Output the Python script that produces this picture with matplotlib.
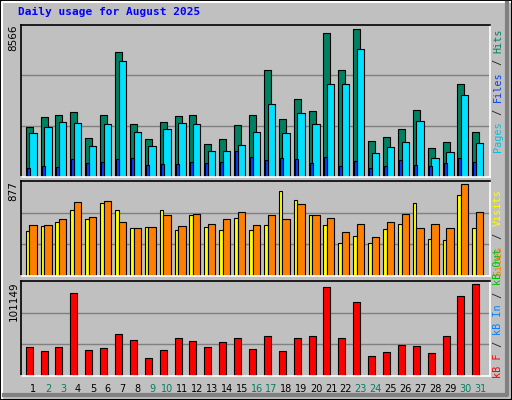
import matplotlib
matplotlib.use("Agg")
import matplotlib.pyplot as plt
from matplotlib.patches import Rectangle
from matplotlib.lines import Line2D

days = list(range(1, 32))
weekends = [2, 3, 9, 10, 16, 17, 23, 24, 30, 31]
hits = [2824,3352,3465,3634,2165,3465,7023,2956,2109,3069,3408,3465,1826,2109,2900,3465,
        6007,3239,4369,3691,8097,6007,8323,1996,2222,2674,3747,1600,1940,5216,2504]
files = [2448,2787,3069,3013,1713,2956,6515,2504,1713,2674,3013,2956,1431,1431,1770,2504,
         4086,2448,3578,2956,5216,5216,7193,1318,1657,1940,3126,1036,1375,4595,1883]
pages = [470,600,546,998,753,810,998,1036,640,716,716,810,753,810,1450,1111,
         941,1054,998,753,1111,603,885,490,603,941,659,603,753,1054,810]
visits = [413,458,495,605,523,669,605,440,449,605,422,559,449,422,532,422,
          468,779,697,559,468,303,367,303,431,477,669,339,330,742,440]
sites = [468,468,523,678,541,688,495,440,449,559,458,568,477,523,587,468,
         559,523,660,559,532,403,477,358,495,568,440,477,440,843,587]
kbytes = [30273,26000,30275,87980,27070,29200,44170,37760,18520,27070,39890,36690,30275,35620,39890,28140,
          42030,26000,39890,42030,94390,39890,78360,20660,24930,32410,31340,23860,42030,84770,97600]
max_hits, max_visits, max_kb = 8566, 877, 101149
title = "Daily usage for August 2025"

W, H = 512, 400
fig = plt.figure(figsize=(W/100, H/100), dpi=100, facecolor="#C0C0C0")
mono = "DejaVu Sans Mono"

# frame
fig.add_artist(Rectangle((0, 0), 1, 1, transform=fig.transFigure, fill=False, ec="black", lw=1.5))
fig.add_artist(Line2D([2/W, 2/W, 1-2/W], [2/H, 1-2/H, 1-2/H], transform=fig.transFigure, color="white", lw=1.5))
fig.add_artist(Line2D([4/W, 1-5/W, 1-5/W], [5/H, 5/H, 1-3/H], transform=fig.transFigure, color="#808080", lw=3))

fig.text(18/W, 1-12/H, title, color="#0000FF", fontsize=8, family=mono, weight="bold", va="center")

def panel(top, bottom, ymax):
    ax = fig.add_axes([20.7/W, 1-bottom/H, 469.3/W, (bottom-top)/H])
    ax.set_facecolor("#C0C0C0")
    ax.set_xlim(0, 31.52)
    ax.set_ylim(0, ymax)
    for f in (1/3, 2/3):
        ax.axhline(ymax*f, color="#808080", lw=1, zorder=0)
    ax.set_xticks([]); ax.set_yticks([])
    for s in ("top", "left"):
        ax.spines[s].set_color("black"); ax.spines[s].set_linewidth(1.2)
    for s in ("bottom", "right"):
        ax.spines[s].set_color("white"); ax.spines[s].set_linewidth(1.2)
    ax.text((13.5-20.7)/469.3, 1.0, str(ymax), transform=ax.transAxes, rotation=90,
            ha="center", va="top", fontsize=7.5, family="DejaVu Sans", clip_on=False)
    return ax

def bars(ax, vals, a, b, color):
    x = [d-1+a for d in days]
    ax.bar(x, vals, width=b-a, align="edge", color=color, edgecolor="black", lw=0.8)

ax1 = panel(24.7, 176.7, max_hits)
bars(ax1, hits, 0.336, 0.806, "#008060")
bars(ax1, files, 0.58, 1.07, "#00E0FF")
bars(ax1, pages, 0.40, 0.60, "#0040FF")

ax2 = panel(180.7, 276.3, max_visits)
bars(ax2, visits, 0.336, 0.58, "#FFFF00")
bars(ax2, sites, 0.58, 1.07, "#FF8000")

ax3 = panel(281, 375.7, max_kb)
bars(ax3, kbytes, 0.336, 0.806, "#FF0000")

def side(parts, y0):
    y = y0
    for txt, col in parts:
        fig.text(498/W, 1-y/H, txt, color=col, fontsize=7.3, family=mono, rotation=90,
                 ha="center", va="bottom")
        y -= len(txt) * 6.2

side([("Pages", "#00C0E0"), (" / ", "#202020"), ("Files", "#0040FF"), (" / ", "#202020"), ("Hits", "#008060")], 152)
side([("Sites", "#FF8000"), (" / ", "#202020"), ("Visits", "#FFFF00")], 276)
side([("kB F", "#FF0000"), (" / ", "#202020"), ("kB In", "#0080FF"), (" / ", "#202020"), ("kB Out", "#00C000")], 378)

for d in days:
    xpix = 20.7 + (d-1+0.846)*14.89
    fig.text(xpix/W, 1-389/H, str(d), ha="center", va="center", fontsize=7, family="DejaVu Sans",
             color="#008060" if d in weekends else "black")

fig.savefig("out.png", dpi=100, facecolor=fig.get_facecolor())
